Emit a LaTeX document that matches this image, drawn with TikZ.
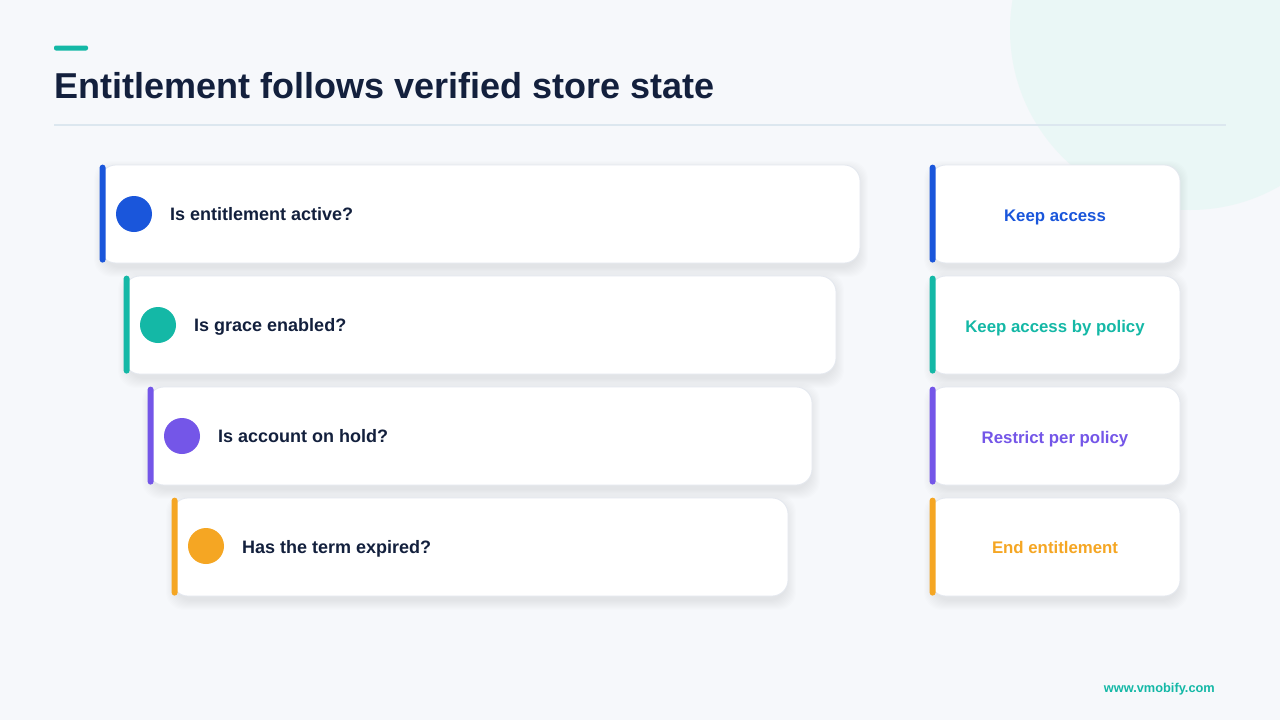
\documentclass[tikz,border=0pt]{standalone}
\usepackage{fontspec}
\setmainfont{Liberation Sans}
\definecolor{bg}{HTML}{F6F8FB}
\definecolor{blob}{HTML}{EAF7F6}
\definecolor{ink}{HTML}{13203D}
\definecolor{cblue}{HTML}{1A56DB}
\definecolor{cteal}{HTML}{14B8A6}
\definecolor{cpurple}{HTML}{7456E8}
\definecolor{corange}{HTML}{F5A623}
\definecolor{rule}{HTML}{DCE7EF}
\definecolor{cardline}{HTML}{E4E8EF}
\begin{document}
\begin{tikzpicture}[x=1pt,y=-1pt,
  card/.style={draw=cardline, line width=0.8pt, fill=white, rounded corners=16pt, inner sep=0pt, minimum height=98pt},
  dot/.style={circle, inner sep=0pt, minimum size=36pt},
  qtext/.style={anchor=base west, text=ink, font=\bfseries\fontsize{18}{21}\selectfont, inner sep=0pt},
  atext/.style={anchor=base, font=\bfseries\fontsize{16.8}{19}\selectfont, inner sep=0pt}
]
\useasboundingbox (0,0) rectangle (1280,720);
\fill[bg] (0,0) rectangle (1280,720);
\begin{scope}
\clip (0,0) rectangle (1280,720);
\fill[blob] (1190,30) circle[radius=180];
\end{scope}
% header
\fill[cteal, rounded corners=2pt] (54,45.5) rectangle (88,50.5);
\node[anchor=base west, inner sep=0pt, text=ink, font=\bfseries\fontsize{36}{40}\selectfont] (title) at (54,98) {Entitlement follows verified store state};
\draw[rule, line width=1.2pt] (54,125) -- (1226,125);
% shadows
\foreach \x/\y/\w in {100/165/760, 124/276/712, 148/387/664, 172/498/616, 930/165/250, 930/276/250, 930/387/250, 930/498/250}{
  \foreach \k in {1,...,10}{
    \fill[black, opacity=0.007, rounded corners=18pt] (\x-\k+4,\y-\k+6) rectangle (\x+\w+\k-2,\y+98+\k+4);
  }
}
% question cards
\node[card, minimum width=760pt] (q1) at (480,214) {};
\node[card, minimum width=712pt] (q2) at (480,325) {};
\node[card, minimum width=664pt] (q3) at (480,436) {};
\node[card, minimum width=616pt] (q4) at (480,547) {};
\fill[cblue, rounded corners=3pt] (q1.north west) rectangle ++(6,98);
\fill[cteal, rounded corners=3pt] (q2.north west) rectangle ++(6,98);
\fill[cpurple, rounded corners=3pt] (q3.north west) rectangle ++(6,98);
\fill[corange, rounded corners=3pt] (q4.north west) rectangle ++(6,98);
\node[dot, fill=cblue] (d1) at (134,214) {};
\node[dot, fill=cteal] (d2) at (158,325) {};
\node[dot, fill=cpurple] (d3) at (182,436) {};
\node[dot, fill=corange] (d4) at (206,546) {};
\node[qtext] (t1) at (170,220.5) {Is entitlement active?};
\node[qtext] (t2) at (194,331.5) {Is grace enabled?};
\node[qtext] (t3) at (218,442.5) {Is account on hold?};
\node[qtext] (t4) at (242,553) {Has the term expired?};
% answer cards
\node[card, minimum width=250pt] (a1) at (1055,214) {};
\node[card, minimum width=250pt] (a2) at (1055,325) {};
\node[card, minimum width=250pt] (a3) at (1055,436) {};
\node[card, minimum width=250pt] (a4) at (1055,547) {};
\fill[cblue, rounded corners=3pt] (a1.north west) rectangle ++(6,98);
\fill[cteal, rounded corners=3pt] (a2.north west) rectangle ++(6,98);
\fill[cpurple, rounded corners=3pt] (a3.north west) rectangle ++(6,98);
\fill[corange, rounded corners=3pt] (a4.north west) rectangle ++(6,98);
\node[atext, text=cblue] (l1) at (1055,221) {Keep access};
\node[atext, text=cteal] (l2) at (1055,332) {Keep access by policy};
\node[atext, text=cpurple] (l3) at (1055,443) {Restrict per policy};
\node[atext, text=corange] (l4) at (1055,553.5) {End entitlement};
% footer
\node[anchor=base east, inner sep=0pt, text=cteal, font=\bfseries\fontsize{12.8}{14}\selectfont] (foot) at (1215,692) {www.vmobify.com};
\end{tikzpicture}
\end{document}
